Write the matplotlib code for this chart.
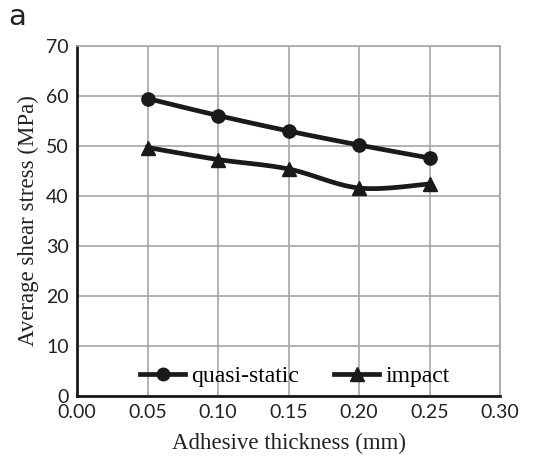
import numpy as np
import matplotlib
matplotlib.use("Agg")
import matplotlib.pyplot as plt
from matplotlib.lines import Line2D

thickness = [0.05, 0.10, 0.15, 0.20, 0.25]
quasi_static = [59.5, 56.1, 53.0, 50.2, 47.6]
impact = [49.7, 47.3, 45.4, 41.6, 42.4]
xticks = [0.00, 0.05, 0.10, 0.15, 0.20, 0.25, 0.30]
yticks = [0, 10, 20, 30, 40, 50, 60, 70]


def smooth(x, y, n=30):
    # catmull-rom style smoothing like a spreadsheet "smoothed line"
    x = np.asarray(x, float)
    y = np.asarray(y, float)
    px = np.concatenate([[x[0]], x, [x[-1]]])
    py = np.concatenate([[y[0]], y, [y[-1]]])
    xs, ys = [], []
    t = np.linspace(0, 1, n)
    for i in range(1, len(px) - 2):
        for p, out in ((px, xs), (py, ys)):
            p0, p1, p2, p3 = p[i - 1], p[i], p[i + 1], p[i + 2]
            c1 = p1 + (p2 - p0) / 6
            c2 = p2 - (p3 - p1) / 6
            seg = ((1 - t) ** 3 * p1 + 3 * (1 - t) ** 2 * t * c1
                   + 3 * (1 - t) * t ** 2 * c2 + t ** 3 * p2)
            out.extend(seg)
    return np.array(xs), np.array(ys)


fig = plt.figure(figsize=(5.45, 4.62), dpi=100)
ax = fig.add_axes([0.1413, 0.1429, 0.7762, 0.7575])

ax.set_xlim(0, 0.30)
ax.set_ylim(0, 70)
ax.set_xticks(xticks)
ax.set_yticks(yticks)
ax.set_xticklabels([f"{v:.2f}" for v in xticks])
ax.grid(True, color="#a6a6a6", linewidth=1.2)
ax.set_axisbelow(True)
ax.tick_params(length=0, labelsize=14)
ax.tick_params(axis="x", pad=6)
ax.tick_params(axis="y", pad=6)
for lab in ax.get_xticklabels() + ax.get_yticklabels():
    lab.set_family("Lato")
    lab.set_color("#222222")

for s in ("top", "right"):
    ax.spines[s].set_color("#a6a6a6")
    ax.spines[s].set_linewidth(1.2)
for s in ("left", "bottom"):
    ax.spines[s].set_color("#1a1a1a")
    ax.spines[s].set_linewidth(2)

sx, sy = smooth(thickness, quasi_static)
ax.plot(sx, sy, color="#1a1a1a", lw=3.4, clip_on=False)
ax.plot(thickness, quasi_static, "o", color="#1a1a1a", ms=9.5, clip_on=False)
sx, sy = smooth(thickness, impact)
ax.plot(sx, sy, color="#1a1a1a", lw=3.4, clip_on=False)
ax.plot(thickness, impact, "^", color="#1a1a1a", ms=10.5, clip_on=False)

handles = [
    Line2D([], [], color="#1a1a1a", lw=3.4, marker="o", ms=9),
    Line2D([], [], color="#1a1a1a", lw=3.4, marker="^", ms=10),
]
ax.legend(handles, ["quasi-static", "impact"], loc="lower center",
          bbox_to_anchor=(0.515, -0.035), ncol=2, frameon=False,
          prop={"family": "Liberation Serif", "size": 17},
          handlelength=1.9, handletextpad=0.25, columnspacing=1.5)

ax.set_xlabel("Adhesive thickness (mm)", family="Liberation Serif",
              fontsize=16.5, color="#222222", labelpad=8)
ax.set_ylabel("Average shear stress (MPa)", family="Liberation Serif",
              fontsize=16.5, color="#222222", labelpad=5)

fig.text(0.015, 0.945, "a", family="DejaVu Sans", fontsize=21, color="#222222")

fig.savefig("out.png", dpi=100)
